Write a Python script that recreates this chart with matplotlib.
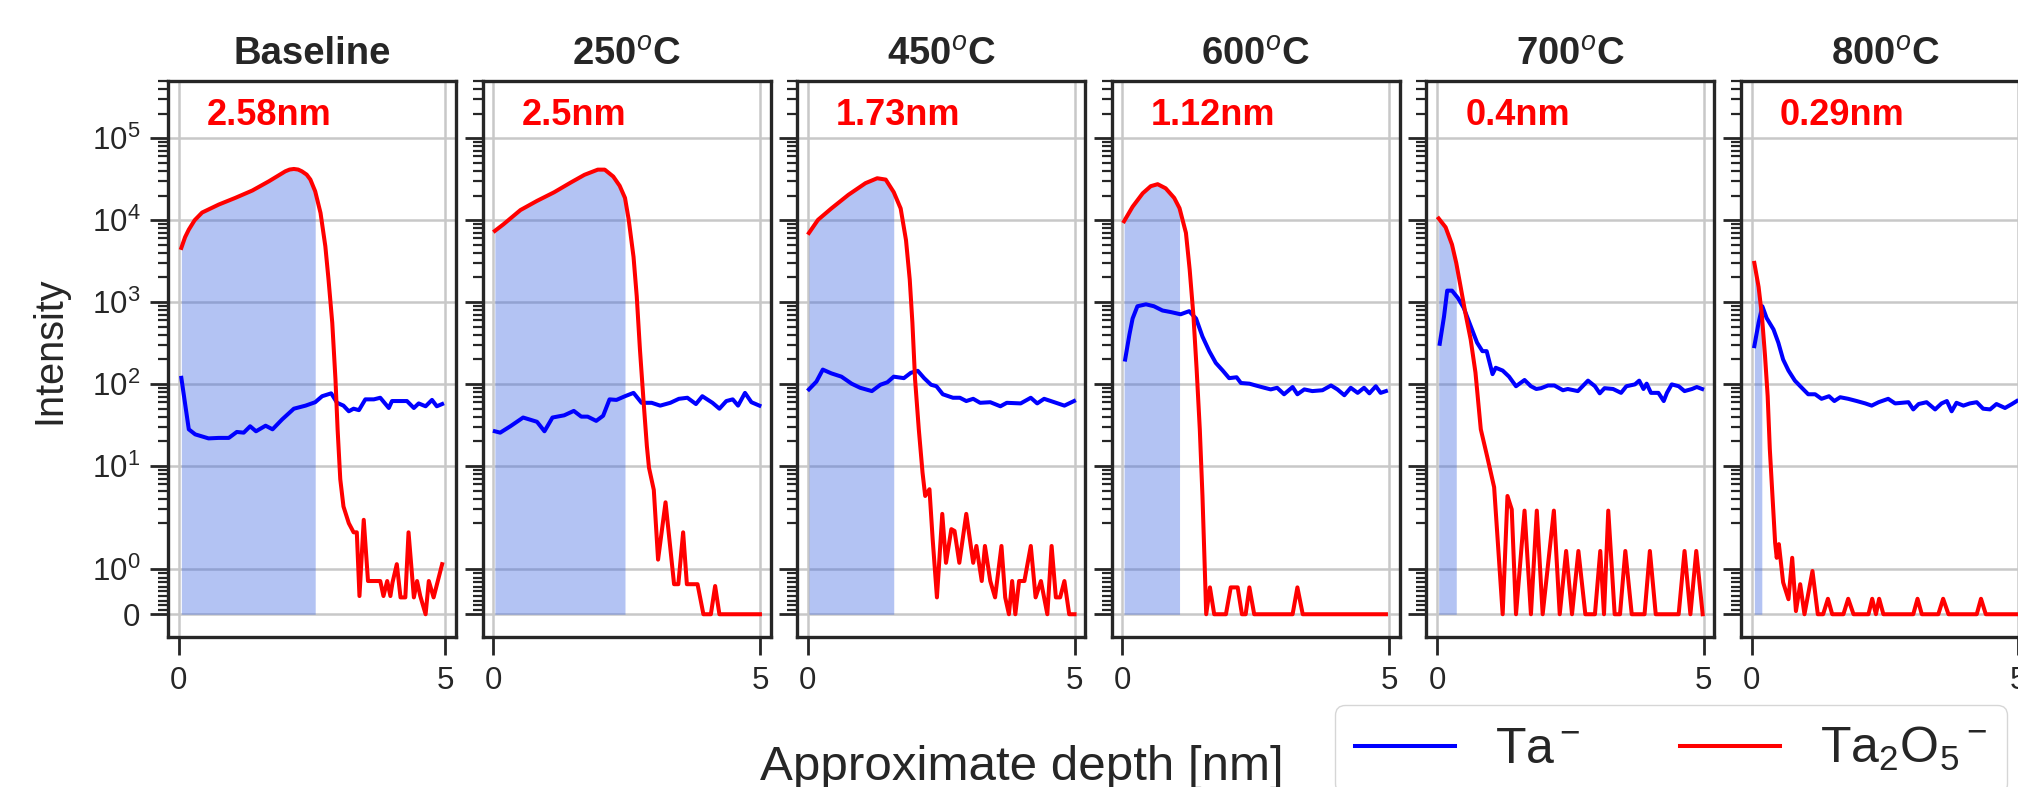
import numpy as np
import matplotlib
matplotlib.use('Agg')
import matplotlib.pyplot as plt
from matplotlib.ticker import FixedLocator, FuncFormatter

plt.rcParams['font.family'] = ['Liberation Sans', 'DejaVu Sans']
plt.rcParams['mathtext.fontset'] = 'custom'
plt.rcParams['mathtext.rm'] = 'Liberation Sans'
plt.rcParams['mathtext.it'] = 'Liberation Sans:italic'
plt.rcParams['mathtext.bf'] = 'Liberation Sans:bold'

titles = ['Baseline', r'250$^o$C', r'450$^o$C', r'600$^o$C', r'700$^o$C', r'800$^o$C']
thickness = ['2.58nm', '2.5nm', '1.73nm', '1.12nm', '0.4nm', '0.29nm']
shade_end = [2.56, 2.47, 1.61, 1.07, 0.36, 0.19]

# Baseline
base_ta_x = [0.05, 0.19, 0.31, 0.56, 0.75, 0.94, 1.09, 1.22, 1.34, 1.45, 1.63, 1.76, 1.94, 2.16, 2.38,
             2.56, 2.69, 2.86, 2.97, 3.09, 3.19, 3.28, 3.38, 3.5, 3.66, 3.78, 3.94, 4.0, 4.19, 4.28,
             4.41, 4.5, 4.63, 4.75, 4.84, 4.94]
base_ta_y = [119, 28, 24.3, 21.7, 22, 22, 26, 25.5, 30.5, 26.5, 31, 28, 37, 50, 54.5,
             60, 71, 77, 59, 54.5, 46.5, 50, 48, 65, 65, 68, 51, 62, 62, 62,
             51, 58, 53.5, 64, 53.5, 57]
base_ox_x = [0.05, 0.12, 0.19, 0.3, 0.44, 0.75, 1.06, 1.38, 1.69, 2.0, 2.08, 2.16, 2.24, 2.31, 2.4,
             2.47, 2.56, 2.66, 2.75, 2.81, 2.88, 2.94, 2.98, 3.03, 3.09, 3.19, 3.28, 3.34, 3.39,
             3.47, 3.55, 3.62, 3.78, 3.84, 3.91, 3.97, 4.01, 4.09, 4.16, 4.25, 4.31, 4.41, 4.47,
             4.53, 4.63, 4.69, 4.78, 4.94]
base_ox_y = [4590, 6200, 7670, 10000, 12400, 15500, 18700, 23000, 29800, 39500, 41500, 42200, 41500,
             39500, 36000, 31300, 22500, 12250, 4810, 1885, 558, 114, 28, 6.9, 3.2, 2.0, 1.8, 1.8,
             0.4, 2.2, 0.73, 0.73, 0.73, 0.4, 0.73, 0.4, 0.7, 1.1, 0.37, 0.37, 1.8, 0.37, 0.73,
             0.4, 0.0, 0.73, 0.37, 1.1]

# 250 C
t250_ta_x = [0.03, 0.13, 0.32, 0.56, 0.82, 0.96, 1.11, 1.33, 1.51, 1.65, 1.77, 1.93, 2.06, 2.18,
             2.31, 2.47, 2.63, 2.78, 2.97, 3.13, 3.32, 3.48, 3.64, 3.8, 3.92, 4.11, 4.24, 4.37,
             4.49, 4.59, 4.72, 4.84, 4.99]
t250_ta_y = [26.5, 25.5, 30.5, 39, 34.6, 26.5, 39, 41.5, 47, 40, 40, 35.5, 41, 65,
             64, 71, 78, 59, 59, 54.5, 59, 66, 68, 57, 71, 59, 50, 62,
             65, 54.5, 78, 60, 54.5]
t250_ox_x = [0.03, 0.19, 0.51, 0.82, 1.14, 1.46, 1.71, 1.96, 2.09, 2.25, 2.37, 2.47, 2.54, 2.63,
             2.69, 2.75, 2.82, 2.88, 2.92, 3.01, 3.09, 3.23, 3.39, 3.47, 3.56, 3.63, 3.83, 3.94,
             4.08, 4.16, 4.24, 5.0]
t250_ox_y = [7400, 8900, 13300, 17200, 21900, 29000, 35800, 41400, 41400, 34100, 26300, 18700,
             10100, 3560, 1180, 265, 59, 17.5, 9.5, 5.1, 1.2, 3.6, 0.66, 0.66, 1.8, 0.66, 0.66,
             0, 0, 0.62, 0, 0]

# 450 C
t450_ta_x = [0.02, 0.16, 0.28, 0.44, 0.63, 0.82, 0.98, 1.2, 1.36, 1.49, 1.61, 1.8, 1.93, 2.06,
             2.18, 2.31, 2.41, 2.53, 2.72, 2.85, 2.97, 3.1, 3.23, 3.42, 3.61, 3.73, 3.99, 4.18,
             4.3, 4.43, 4.62, 4.81, 4.99]
t450_ta_y = [86, 107, 150, 135, 123, 101, 90, 82, 98, 105, 123, 118, 137, 145,
             118, 98, 94, 75, 68, 68, 62, 66, 59, 60, 53.5, 59, 58, 68,
             58, 66, 60, 54.5, 62]
t450_ox_x = [0.02, 0.19, 0.44, 0.76, 1.08, 1.30, 1.46, 1.61, 1.74, 1.84, 1.91, 1.96, 2.01, 2.08,
             2.15, 2.2, 2.28, 2.34, 2.42, 2.52, 2.59, 2.69, 2.75, 2.84, 2.97, 3.1, 3.16, 3.26,
             3.32, 3.42, 3.51, 3.63, 3.7, 3.77, 3.83, 3.89, 3.96, 4.06, 4.18, 4.27, 4.37, 4.49,
             4.57, 4.65, 4.73, 4.81, 4.9, 5.0]
t450_ox_y = [6980, 10100, 13900, 20400, 28300, 32500, 31300, 22000, 13900, 5700, 1890, 560, 114,
             28, 8.3, 4.3, 5.2, 1.65, 0.37, 2.6, 1.13, 1.87, 1.83, 1.13, 2.6, 1.13, 1.5, 0.73,
             1.5, 0.73, 0.37, 1.5, 0.37, 0, 0.73, 0, 0.73, 0.73, 1.5, 0.37, 0.73, 0,
             1.5, 0.37, 0.37, 0.73, 0, 0]

# 600 C
t600_ta_x = [0.05, 0.13, 0.19, 0.28, 0.44, 0.59, 0.75, 0.91, 1.09, 1.25, 1.38, 1.5, 1.63, 1.75,
             1.88, 2.0, 2.14, 2.22, 2.38, 2.5, 2.66, 2.78, 2.9, 3.03, 3.19, 3.28, 3.41, 3.56,
             3.75, 3.91, 4.03, 4.16, 4.28, 4.41, 4.53, 4.63, 4.75, 4.84, 4.94]
t600_ta_y = [199, 400, 630, 890, 940, 890, 790, 755, 710, 775, 630, 380, 250, 181,
             146, 118, 121, 103, 101, 96, 90, 86, 90, 75, 92, 75, 86, 82,
             84, 96, 86, 73, 90, 78, 90, 77, 94, 78, 82]
t600_ox_x = [0.03, 0.19, 0.38, 0.53, 0.66, 0.81, 0.97, 1.07, 1.19, 1.26, 1.33, 1.39, 1.45, 1.5,
             1.54, 1.57, 1.64, 1.72, 1.94, 2.03, 2.16, 2.24, 2.31, 2.38, 2.47, 3.19, 3.28, 3.38,
             4.94]
t600_ox_y = [9700, 14600, 21300, 26000, 27500, 24500, 18700, 14000, 7000, 2500, 690, 154, 28, 4.3,
             1.13, 0, 0.59, 0, 0, 0.59, 0.59, 0, 0, 0.59, 0, 0, 0.59, 0,
             0]

# 700 C
t700_ta_x = [0.05, 0.13, 0.19, 0.28, 0.39, 0.5, 0.63, 0.75, 0.85, 0.93, 1.04, 1.1, 1.23, 1.35,
             1.48, 1.64, 1.76, 1.86, 1.95, 2.08, 2.2, 2.36, 2.45, 2.64, 2.83, 2.96, 3.05, 3.14,
             3.3, 3.45, 3.55, 3.71, 3.79, 3.87, 3.93, 4.01, 4.15, 4.25, 4.31, 4.4, 4.53, 4.64,
             4.78, 4.87, 4.97]
t700_ta_y = [310, 665, 1380, 1380, 1125, 850, 510, 320, 252, 252, 132, 158, 146, 123,
             94, 112, 94, 87, 89, 96, 96, 84, 87, 82, 110, 94, 77, 89,
             87, 78, 94, 99, 110, 87, 101, 78, 78, 62, 78, 99, 94, 82,
             87, 92, 87]
t700_ox_x = [0.03, 0.16, 0.28, 0.36, 0.44, 0.53, 0.63, 0.72, 0.82, 0.94, 1.07, 1.23, 1.32, 1.4,
             1.48, 1.64, 1.76, 1.87, 1.98, 2.19, 2.3, 2.42, 2.53, 2.65, 2.78, 2.96, 3.06, 3.13,
             3.21, 3.33, 3.43, 3.53, 3.65, 3.89, 3.99, 4.1, 4.53, 4.64, 4.75, 4.86, 4.98]
t700_ox_y = [10500, 8200, 5040, 3000, 1560, 740, 350, 138, 28, 13, 5.5, 0, 4.3, 2.95,
             0, 2.85, 0, 2.85, 0, 2.85, 0, 1.39, 0, 1.39, 0, 0, 1.39, 0,
             2.85, 0, 0, 1.39, 0, 0, 1.39, 0, 0, 1.39, 0, 1.39, 0]

# 800 C
t800_ta_x = [0.05, 0.13, 0.2, 0.28, 0.41, 0.5, 0.59, 0.69, 0.81, 0.94, 1.06, 1.19, 1.31, 1.45,
             1.55, 1.66, 1.81, 1.97, 2.13, 2.25, 2.38, 2.56, 2.69, 2.94, 3.03, 3.13, 3.28, 3.44,
             3.56, 3.66, 3.75, 3.84, 3.97, 4.09, 4.22, 4.34, 4.47, 4.59, 4.75, 4.88, 4.97]
t800_ta_y = [290, 560, 890, 640, 463, 320, 199, 146, 110, 90, 75, 75, 66, 71,
             62, 69, 66, 62, 58, 54.5, 60, 66, 58, 60, 49, 57, 60, 49,
             58, 62, 46.5, 59, 54.5, 58, 60, 50, 49, 57, 51, 57, 62]
t800_ox_x = [0.05, 0.13, 0.19, 0.25, 0.3, 0.34, 0.39, 0.44, 0.47, 0.51, 0.59, 0.69, 0.76, 0.83,
             0.91, 0.99, 1.14, 1.24, 1.34, 1.43, 1.51, 1.72, 1.81, 1.91, 2.19, 2.26, 2.33, 2.39,
             2.47, 3.03, 3.11, 3.19, 3.5, 3.59, 3.69, 4.22, 4.3, 4.39, 4.99]
t800_ox_y = [3010, 1530, 710, 223, 71, 16.2, 4.3, 1.57, 1.24, 1.54, 0.7, 0.33, 1.24, 0.07,
             0.66, 0, 0.95, 0, 0, 0.34, 0, 0, 0.34, 0, 0, 0.34, 0, 0.34,
             0, 0, 0.34, 0, 0, 0.34, 0, 0, 0.34, 0, 0]

panels = [
    (base_ta_x, base_ta_y, base_ox_x, base_ox_y),
    (t250_ta_x, t250_ta_y, t250_ox_x, t250_ox_y),
    (t450_ta_x, t450_ta_y, t450_ox_x, t450_ox_y),
    (t600_ta_x, t600_ta_y, t600_ox_x, t600_ox_y),
    (t700_ta_x, t700_ta_y, t700_ox_x, t700_ox_y),
    (t800_ta_x, t800_ta_y, t800_ox_x, t800_ox_y),
]

dark = '#262626'
W, H = 2018, 787
fig = plt.figure(figsize=(W / 100, H / 100), dpi=100)

minor_ticks = [k / 10 for k in range(1, 10)] + [k * 10 ** n for n in range(0, 6) for k in range(2, 10)]

def fmt(v, pos):
    if v == 0:
        return '0'
    return r'$\mathdefault{10^{%d}}$' % round(np.log10(v))

for i, (tx, ty, ox, oy) in enumerate(panels):
    ax = fig.add_axes([(168 + 314.6 * i) / W, 150 / H, 288 / W, 556 / H])
    ax.set_yscale('symlog', linthresh=2)
    ax.set_axisbelow(True)
    ox_a = np.array(ox)
    oy_a = np.array(oy)
    ax.fill_between(ox_a, 0, oy_a, where=ox_a <= shade_end[i], color='royalblue',
                    alpha=0.4, linewidth=0, zorder=1)
    l1, = ax.plot(tx, ty, color='blue', lw=2.9, zorder=3)
    l2, = ax.plot(ox, oy, color='red', lw=2.9, zorder=3)
    ax.set_xlim(-0.2, 5.2)
    ax.set_ylim(-0.5, 5e5)
    ax.set_xticks([0, 5])
    ax.yaxis.set_major_locator(FixedLocator([0, 1, 10, 100, 1e3, 1e4, 1e5]))
    ax.yaxis.set_minor_locator(FixedLocator(minor_ticks))
    ax.yaxis.set_major_formatter(FuncFormatter(fmt))
    ax.grid(True, which='major', color='#c8c8c8', lw=1.8)
    for s in ax.spines.values():
        s.set_color(dark)
        s.set_linewidth(2.4)
    ax.tick_params(axis='both', which='major', length=13, width=2.0, color=dark,
                   labelcolor=dark, labelsize=22.5, pad=8)
    ax.tick_params(axis='y', which='minor', length=7, width=1.6, color=dark)
    ax.tick_params(axis='y', which='major', pad=7)
    if i > 0:
        ax.tick_params(axis='y', labelleft=False)
    ax.set_title(titles[i], fontsize=27.5, fontweight='bold', color=dark, pad=12)
    ax.text(0.135, 0.921, thickness[i], transform=ax.transAxes, color='red',
            fontsize=26, fontweight='bold', ha='left', va='baseline')

fig.text(49 / W, 1 - 350 / H, 'Intensity', rotation=90, ha='center', va='center',
         fontsize=28.5, color=dark)
fig.text(1022 / W, 1 - 767 / H, 'Approximate depth [nm]', ha='center', va='center',
         fontsize=35.5, color=dark)

leg = fig.legend([l1, l2], [r'Ta$^-$', r'Ta$_2$O$_5$$^-$'], ncol=2, loc='upper left',
                 bbox_to_anchor=(1335 / W, 1 - 705 / H), fontsize=36, frameon=True,
                 fancybox=True, edgecolor='#cccccc', borderaxespad=0)
for t in leg.get_texts():
    t.set_color(dark)

fig.savefig('out.png', dpi=100)
